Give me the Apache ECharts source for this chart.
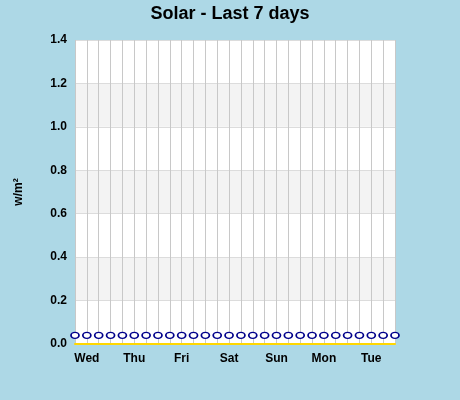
<!DOCTYPE html>
<html><head><meta charset="utf-8">
<script src="https://cdn.jsdelivr.net/npm/echarts@6/dist/echarts.min.js"></script>
<style>html,body{margin:0;background:#add8e6}#c{width:460px;height:400px}</style>
</head><body><div id="c"></div>
<script>
const dayLabels = ['Wed','Thu','Fri','Sat','Sun','Mon','Tue'];
const categories = ['', 'Wed','','','', 'Thu','','','', 'Fri','','','', 'Sat','','','', 'Sun','','','', 'Mon','','','', 'Tue','',''];
const solarValues = [0.04,0.04,0.04,0.04,0.04,0.04,0.04,0.04,0.04,0.04,0.04,0.04,0.04,0.04,0.04,0.04,0.04,0.04,0.04,0.04,0.04,0.04,0.04,0.04,0.04,0.04,0.04,0.04];
const chart = echarts.init(document.getElementById('c'));
chart.setOption({
  backgroundColor:'#add8e6',
  animation:false,
  title:{text:'Solar - Last 7 days',left:'center',top:0,textStyle:{fontFamily:'Liberation Sans',fontWeight:'bold',fontSize:18,color:'#000'}},
  grid:{left:75,right:65,top:40,bottom:56,show:true,backgroundColor:'#fff',borderWidth:0},
  xAxis:{type:'category',data:categories,boundaryGap:false,
    axisLine:{lineStyle:{color:'#ffd700',width:2}},axisTick:{show:false},
    axisLabel:{interval:0,color:'#000',fontWeight:'bold',fontSize:12,fontFamily:'Liberation Sans',margin:9},
    splitLine:{show:true,interval:0,lineStyle:{color:'#c8c8c8'}}},
  yAxis:{type:'value',min:0,max:1.4,interval:0.2,name:'w/m²',nameLocation:'middle',nameGap:50,
    nameTextStyle:{fontWeight:'bold',fontSize:12,fontFamily:'Liberation Sans',color:'#000'},
    axisLine:{show:false},axisTick:{show:false},
    axisLabel:{formatter:v=>v.toFixed(1),color:'#000',fontWeight:'bold',fontSize:12,fontFamily:'Liberation Sans',margin:8},
    splitLine:{lineStyle:{color:'#dcdcdc'}},
    splitArea:{show:true,areaStyle:{color:['#fff','#f3f3f3']}}},
  series:[{type:'line',data:solarValues,lineStyle:{width:0},
    symbol:'path://M0,5a5,3 0 1,0 10,0a5,3 0 1,0 -10,0',symbolSize:[8,6],
    itemStyle:{color:'#fff',borderColor:'#00008b',borderWidth:1.5}}]
});
</script></body></html>
